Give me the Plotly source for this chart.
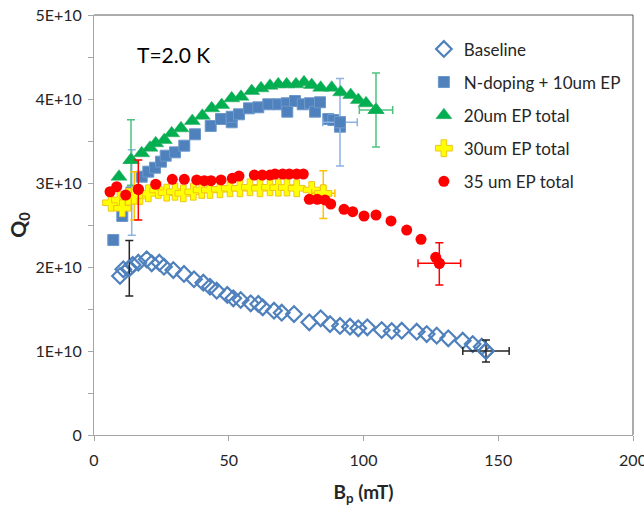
import numpy as np
import plotly.graph_objects as go

E10 = 1e10

# ---- Baseline (open diamonds) ----
base_b = [9.65, 10.87, 13.10, 14.36, 16.44, 19.55, 21.41, 24.23, 25.97, 29.42, 33.40, 37.11,
          40.56, 43.04, 45.53, 49.46, 51.69, 54.43, 58.14, 60.96, 62.60, 66.79, 69.65, 74.21,
          79.89, 84.12, 87.57, 91.28, 94.99, 98.07, 101.41, 106.75, 110.46, 114.18, 119.74,
          123.45, 127.16, 131.47, 136.81, 140.52, 143.86, 145.45]
base_q = [1.893, 1.973, 1.985, 2.024, 2.051, 2.092, 2.044, 2.051, 2.004, 1.964, 1.917, 1.854,
          1.813, 1.765, 1.718, 1.667, 1.627, 1.607, 1.568, 1.560, 1.520, 1.480, 1.456, 1.440,
          1.342, 1.389, 1.321, 1.298, 1.289, 1.270, 1.282, 1.250, 1.238, 1.242, 1.230,
          1.202, 1.183, 1.151, 1.123, 1.083, 1.051, 1.000]

# ---- N-doping + 10um EP (squares) ----
ndop_b = [7.16, 10.50, 14.00, 17.70, 20.15, 22.63, 24.86, 26.60, 30.06, 33.51, 37.48, 43.30,
          47.12, 51.09, 51.09, 53.80, 57.51, 60.96, 64.67, 68.38, 71.50, 71.73, 74.58, 77.44,
          80.15, 82.00, 83.86, 86.94, 88.80, 91.28, 91.28]
ndop_q = [2.321, 2.607, 2.887, 3.075, 3.135, 3.182, 3.254, 3.325, 3.365, 3.444, 3.580, 3.679,
          3.762, 3.723, 3.789, 3.818, 3.889, 3.901, 3.937, 3.937, 3.949, 3.849, 3.976, 3.937,
          3.949, 3.849, 3.961, 3.762, 3.750, 3.670, 3.723]

# ---- 20um EP total (triangles) ----
ep20_b = [9.28, 13.73, 17.70, 20.78, 22.89, 26.09, 28.83, 32.28, 36.47, 40.19, 43.67, 47.38,
          51.09, 54.55, 58.52, 61.97, 65.31, 68.38, 71.50, 74.95, 77.92, 80.78, 84.12, 88.20,
          91.54, 95.25, 98.07, 100.93, 104.64]
ep20_q = [3.075, 3.274, 3.354, 3.420, 3.473, 3.512, 3.592, 3.651, 3.738, 3.801, 3.889, 3.929,
          4.008, 4.027, 4.095, 4.127, 4.158, 4.175, 4.175, 4.175, 4.199, 4.167, 4.135, 4.135,
          4.080, 4.048, 3.988, 3.949, 3.869]

# ---- 30um EP total (crosses) ----
ep30_b = [6.31, 9.65, 10.50, 12.73, 14.95, 17.07, 20.15, 23.86, 26.98, 30.06, 33.14, 36.85,
          39.96, 43.04, 46.75, 50.46, 54.17, 57.88, 61.60, 65.31, 68.38, 71.60, 75.21, 80.78, 85.08]
ep30_q = [2.765, 2.798, 2.699, 2.837, 2.850, 2.845, 2.877, 2.917, 2.885, 2.896, 2.877, 2.896,
          2.917, 2.917, 2.925, 2.937, 2.937, 2.949, 2.937, 2.949, 2.944, 2.946, 2.937, 2.917, 2.877]

# ---- 35 um EP total (circles) ----
ep35_b = [5.94, 8.42, 11.76, 16.44, 22.89, 29.05, 33.51, 38.11, 40.93, 43.41, 47.12, 51.32,
          53.80, 59.48, 62.45, 65.31, 67.16, 70.02, 72.47, 75.21, 77.66, 79.89, 82.86, 85.71,
          87.83, 92.76, 95.99, 100.19, 104.64, 110.20, 116.03, 121.34, 126.79, 128.13]
ep35_q = [2.896, 2.956, 2.857, 2.925, 2.985, 3.044, 3.044, 3.036, 3.027, 3.027, 3.036, 3.056,
          3.083, 3.095, 3.095, 3.095, 3.107, 3.107, 3.107, 3.107, 3.107, 2.806, 2.806, 2.798,
          2.750, 2.687, 2.658, 2.607, 2.619, 2.548, 2.440, 2.330, 2.115, 2.044]

# ---- error bars: (B, Q, +dQ, -dQ, dB) ----
base_err = [(13.10, 1.985, 0.33, 0.33, 0), (145.45, 1.000, 0.13, 0.13, 8.6)]
ndop_err = [(14.00, 2.887, 0.51, 0.51, 0), (91.28, 3.723, 0.52, 0.52, 6.4)]
ep20_err = [(13.73, 3.274, 0.48, 0.30, 0), (104.64, 3.869, 0.44, 0.44, 6.2)]
ep30_err = [(14.95, 2.850, 0.285, 0.29, 0), (85.08, 2.877, 0.27, 0.30, 4.3)]
ep35_err = [(16.44, 2.925, 0.35, 0.365, 0), (128.13, 2.044, 0.245, 0.258, 7.9)]

names = ["Baseline", "N-doping + 10um EP", "20um EP total", "30um EP total", "35 um EP total"]
xs = [base_b, ndop_b, ep20_b, ep30_b, ep35_b]
ys = [base_q, ndop_q, ep20_q, ep30_q, ep35_q]
errs = [base_err, ndop_err, ep20_err, ep30_err, ep35_err]
markers = [
    dict(symbol="diamond-open", color="#4F81BD", size=12, line=dict(color="#4F81BD", width=2.2)),
    dict(symbol="square", color="#4F81BD", size=11, line=dict(color="#6C98CC", width=1)),
    dict(symbol="triangle-up", color="#00B050", size=14, line=dict(color="#2FA862", width=0.5)),
    dict(symbol="cross", color="#FFFF00", size=14, line=dict(color="#F0C419", width=1)),
    dict(symbol="circle", color="#FF0000", size=11, line=dict(width=0)),
]
err_colors = ["#262626", "#8DB3E2", "#4DC27D", "#FFC000", "#FF0000"]

fig = go.Figure()
for i in range(5):
    fig.add_trace(go.Scatter(
        x=xs[i], y=np.array(ys[i]) * E10, mode="markers", name=names[i],
        marker=markers[i], legendgroup=names[i]))
    for (b, q, ep, em, db) in errs[i]:
        ex = dict(type="data", array=[db], color=err_colors[i], thickness=1.5, width=4,
                  visible=db > 0)
        fig.add_trace(go.Scatter(
            x=[b], y=[q * E10], mode="markers", marker=markers[i], showlegend=False,
            legendgroup=names[i],
            error_y=dict(type="data", symmetric=False, array=[ep * E10], arrayminus=[em * E10],
                         color=err_colors[i], thickness=1.5, width=4),
            error_x=ex))

font = "Lato, Carlito, Calibri, sans-serif"
yticks = [0, 1, 2, 3, 4, 5]
ytext = ["0", "1E+10", "2E+10", "3E+10", "4E+10", "5E+10"]
xticks = [0, 50, 100, 150, 200]

fig.update_layout(
    width=644, height=506,
    margin=dict(l=94, r=11, t=15, b=71, autoexpand=False),
    paper_bgcolor="white", plot_bgcolor="white",
    font=dict(family=font, color="#262626"),
    showlegend=True,
    legend=dict(x=0.612, y=0.961, xanchor="left", yanchor="top",
                font=dict(family=font, size=17, color="#262626"),
                bgcolor="rgba(0,0,0,0)", tracegroupgap=8, traceorder="grouped"),
    xaxis=dict(range=[0, 200], tickvals=xticks, ticks="outside", ticklen=5,
               tickcolor="#A6A6A6", showline=True, linecolor="#A6A6A6", linewidth=1,
               showgrid=False, zeroline=False, ticklabeloverflow="allow",
               ticklabelstandoff=6, automargin=True,
               tickfont=dict(family=font, size=16, color="#262626"),
               title=dict(text="<b>B<sub>p</sub> (mT)</b>", font=dict(family=font, size=19),
                          standoff=20)),
    yaxis=dict(range=[0, 5 * E10], tickvals=[v * E10 for v in yticks], ticktext=ytext,
               ticks="outside", ticklen=5, tickcolor="#A6A6A6", showline=True,
               linecolor="#A6A6A6", linewidth=1, showgrid=False, zeroline=False,
               ticklabelstandoff=3, automargin=False,
               minor=dict(dtick=0.5 * E10, ticks="outside", ticklen=5, tickcolor="#A6A6A6",
                          showgrid=False),
               tickfont=dict(family=font, size=16, color="#262626"),
               title=dict(text="<b>Q<sub>0</sub></b>", font=dict(family=font, size=21),
                          standoff=3)),
    annotations=[dict(text="T=2.0 K", x=0.148, y=0.907, xref="paper", yref="paper",
                      xanchor="center", yanchor="middle", showarrow=False,
                      font=dict(family=font, size=21, color="#000000"))],
    shapes=[
        dict(type="line", xref="paper", yref="paper", x0=0, x1=1, y0=1, y1=1,
             line=dict(color="#595959", width=1)),
        dict(type="line", xref="paper", yref="paper", x0=1, x1=1, y0=0, y1=1,
             line=dict(color="#595959", width=1)),
    ],
)

fig.write_html("out.html")
